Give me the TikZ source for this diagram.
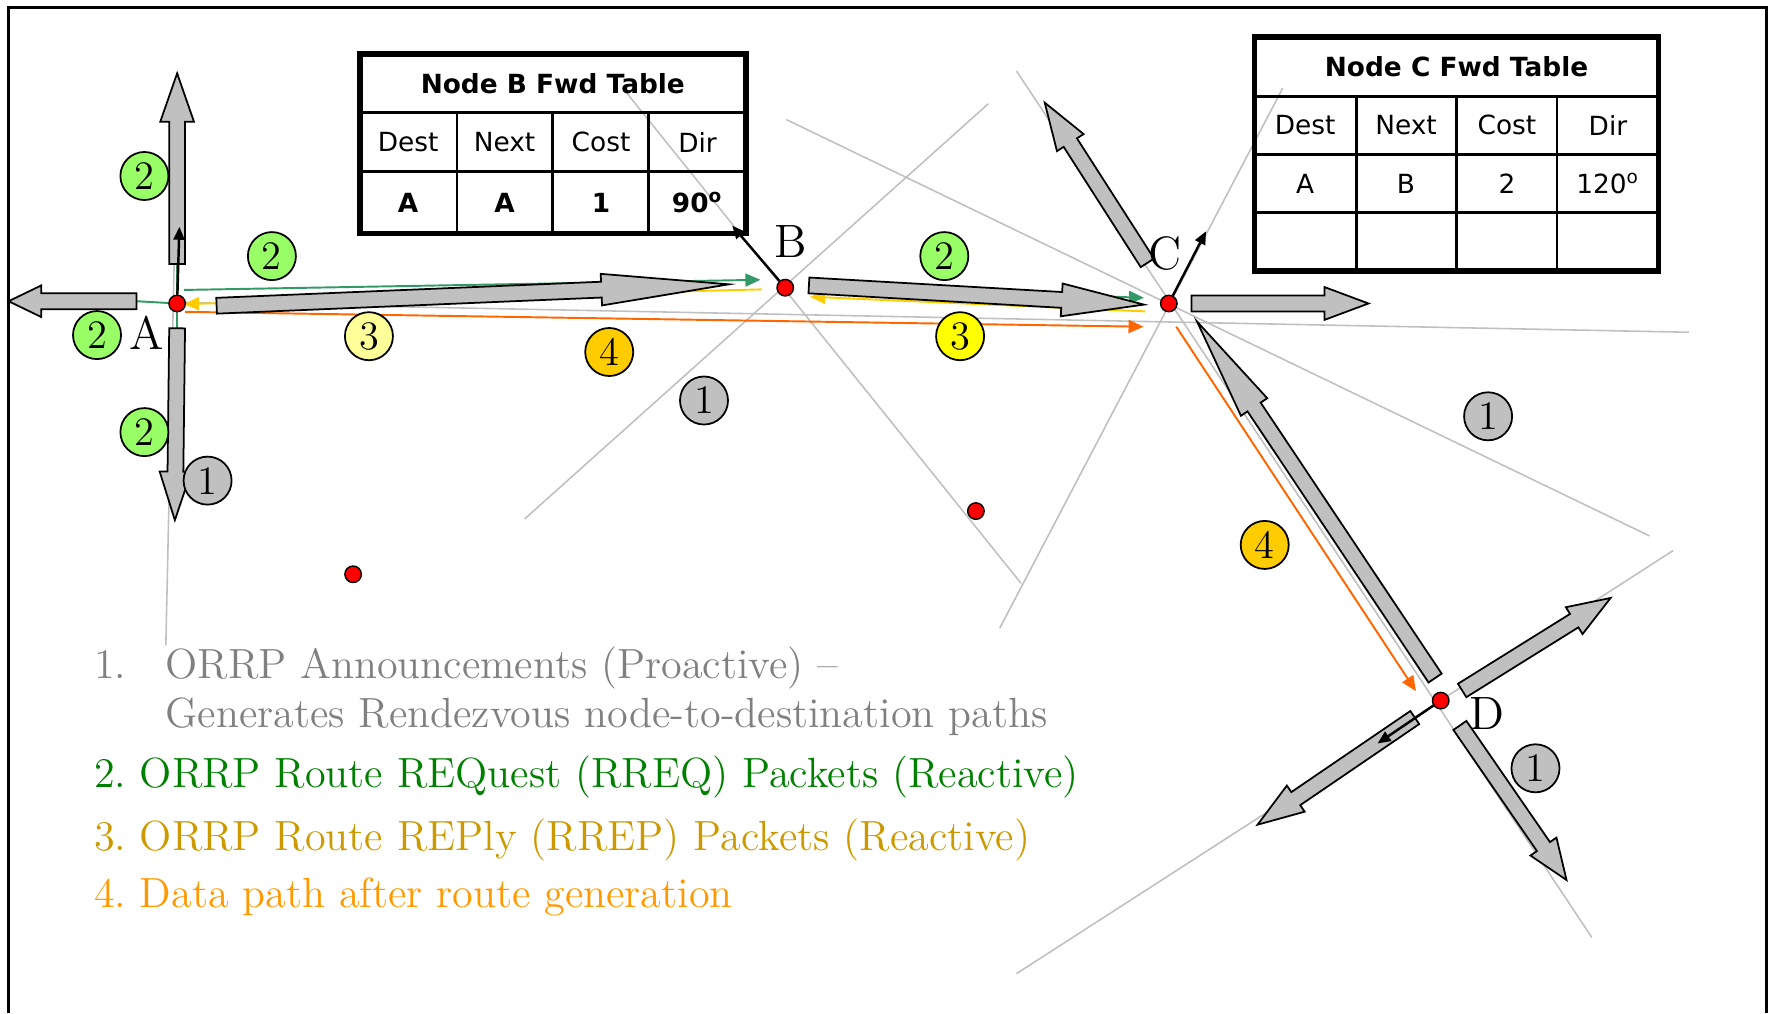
\documentclass[tikz,border=0pt]{standalone}
\usepackage{fontspec}
\newfontfamily\tabfont{DejaVu Sans}
\usetikzlibrary{calc,arrows.meta}
\pgfdeclarelayer{bg}
\pgfsetlayers{bg,main}
\frenchspacing

\definecolor{raygray}{RGB}{192,192,192}
\definecolor{blockgray}{RGB}{192,192,192}
\definecolor{reqgreen}{RGB}{51,153,102}
\definecolor{repgold}{RGB}{255,204,0}
\definecolor{datorange}{RGB}{255,102,0}
\definecolor{bdgreen}{RGB}{153,255,102}
\definecolor{bdpale}{RGB}{255,255,153}
\definecolor{bdyellow}{RGB}{255,255,0}
\definecolor{bdgold}{RGB}{255,204,0}
\definecolor{leggray}{RGB}{128,128,128}
\definecolor{leggreen}{RGB}{0,128,0}
\definecolor{leggold}{RGB}{204,153,0}
\definecolor{legorange}{RGB}{255,153,0}

\newcommand\arrshaft{0.79mm}
% block arrow: tail, tip, head length, head half width
\newcommand\blkarrow[4]{%
  \coordinate (hb) at ($(#2)!#3!(#1)$);
  \draw[blockarr] ($(#1)!\arrshaft!90:(#2)$) -- ($(hb)!\arrshaft!90:(#2)$) -- ($(hb)!#4!90:(#2)$) -- (#2)
    -- ($(hb)!#4!-90:(#2)$) -- ($(hb)!\arrshaft!-90:(#2)$) -- ($(#1)!\arrshaft!-90:(#2)$) -- cycle;}

\begin{document}
\begin{tikzpicture}[
	x=0.011282cm, y=-0.011282cm,
	ray/.style={draw=raygray, line width=0.45pt},
	rdot/.style={circle, draw, fill=red, minimum size=1.65mm, inner sep=0pt, line width=0.4pt},
	badge/.style={circle, draw, line width=0.5pt, minimum size=4.8mm, inner sep=0pt, font=\fontsize{11.5}{11.5}\selectfont},
	nodelbl/.style={anchor=base, inner sep=0pt, font=\fontsize{13.3}{14}\selectfont},
	blockarr/.style={draw, fill=blockgray, line width=0.5pt, line join=miter},
	reqln/.style={draw=reqgreen, line width=0.55pt},
	repln/.style={draw=repgold, line width=0.55pt},
	datln/.style={draw=datorange, line width=0.55pt},
	headed/.style={-{Triangle[length=1.5mm,width=1.3mm]}},
	ptr/.style={draw, line width=0.7pt, -{Triangle[length=1.3mm,width=1.1mm]}},
	cell/.style={inner sep=0pt, font=\tabfont\fontsize{7.5}{9}\selectfont},
	legtxt/.style={anchor=base west, inner sep=0pt, font=\fontsize{12}{14}\selectfont},
	]
	\useasboundingbox (0,0) rectangle (1568,898);
	\draw[line width=0.8pt] (7.6,898) -- (7.6,6.5) -- (1565.5,6.5) -- (1565.5,898);

	% nodes
	\node[rdot] (A) at (157,269) {};
	\node[rdot] (B) at (696,255) {};
	\node[rdot] (C) at (1036,269) {};
	\node[rdot] (D) at (1277,621) {};
	\node[rdot] (E) at (313,509) {};
	\node[rdot] (F) at (865,453) {};

	\node[nodelbl] (lA) at (130,310) {A};
	\node[nodelbl] (lB) at (701,228) {B};
	\node[nodelbl] (lC) at (1033,239) {C};
	\node[nodelbl] (lD) at (1318,647) {D};

	% rays
	\coordinate (r1a) at (158,65);   \coordinate (r1b) at (147,572);
	\coordinate (r2a) at (552,78);   \coordinate (r2b) at (905,517);
	\coordinate (r3a) at (876,92);   \coordinate (r3b) at (465,460);
	\coordinate (r4a) at (697,106);  \coordinate (r4b) at (1462,475);
	\coordinate (r5a) at (901,63);   \coordinate (r5b) at (1411,831);
	\coordinate (r6a) at (1137,78);  \coordinate (r6b) at (886,557);
	\coordinate (r7a) at (157,268);  \coordinate (r7b) at (1497,294.5);
	\coordinate (r8a) at (1483,488); \coordinate (r8b) at (901,863);

	% block arrow ends
	\coordinate (aUt) at (157,234);  \coordinate (aUh) at (157,65);
	\coordinate (aLt) at (121,267);  \coordinate (aLh) at (7.6,267);
	\coordinate (aDt) at (157,291);  \coordinate (aDh) at (155,461);
	\coordinate (abt) at (192,271);  \coordinate (abh) at (646,252);
	\coordinate (bct) at (717,253);  \coordinate (bch) at (1014,270);
	\coordinate (cRt) at (1056,269); \coordinate (cRh) at (1213,269);
	\coordinate (cUt) at (1017,233); \coordinate (cUh) at (926,91);
	\coordinate (dct) at (1272,601); \coordinate (dch) at (1061,285);
	\coordinate (dRt) at (1296,612); \coordinate (dRh) at (1427.6,530);
	\coordinate (dLt) at (1254,636); \coordinate (dLh) at (1114.6,731);
	\coordinate (dSt) at (1294,643); \coordinate (dSh) at (1388.5,780);

	% packet paths
	\coordinate (gab1) at (163,257);   \coordinate (gab2) at (674,248);
	\coordinate (gbc1) at (720,253);   \coordinate (gbc2) at (1014,264);
	\coordinate (yba1) at (675,256.5); \coordinate (yba2) at (163,269.5);
	\coordinate (ycb1) at (1015,276);  \coordinate (ycb2) at (718,263);
	\coordinate (oac1) at (164,276.4); \coordinate (oac2) at (1013.6,289.6);
	\coordinate (ocd1) at (1042.6,289.6); \coordinate (ocd2) at (1255,612.6);

	\begin{pgfonlayer}{bg}
		\foreach \r in {1,...,8}
			\draw[ray] (r\r a) -- (r\r b);
		\draw[reqln] (A) -- (aLt);
		\draw[reqln] (A) -- (aUt);
		\draw[reqln] (A) -- (aDt);
		\draw[reqln, headed] (gab1) -- (gab2);
		\draw[reqln, headed] (gbc1) -- (gbc2);
		\draw[repln, headed] (yba1) -- (yba2);
		\draw[repln, headed] (ycb1) -- (ycb2);
		\draw[datln, headed] (oac1) -- (oac2);
		\draw[datln, headed] (ocd1) -- (ocd2);

		\blkarrow{aUt}{aUh}{4.85mm}{1.69mm}
		\blkarrow{aLt}{aLh}{3.27mm}{1.58mm}
		\blkarrow{aDt}{aDh}{4.85mm}{1.58mm}
		\blkarrow{abt}{abh}{12.75mm}{1.58mm}
		\blkarrow{bct}{bch}{8.24mm}{1.64mm}
		\blkarrow{cRt}{cRh}{4.4mm}{1.64mm}
		\blkarrow{cUt}{cUh}{4.74mm}{1.58mm}
		\blkarrow{dct}{dch}{10.27mm}{1.58mm}
		\blkarrow{dRt}{dRh}{4.29mm}{1.58mm}
		\blkarrow{dLt}{dLh}{4.63mm}{1.58mm}
		\blkarrow{dSt}{dSh}{4.06mm}{1.58mm}
	\end{pgfonlayer}

	\coordinate (pA) at (159,201);
	\coordinate (pB) at (649,200);
	\coordinate (pC) at (1069,205);
	\coordinate (pD) at (1221,659);
	\draw[ptr] (A) -- (pA);
	\draw[ptr] (B) -- (pB);
	\draw[ptr] (C) -- (pC);
	\draw[ptr] (D) -- (pD);

	% badges
	\node[badge, fill=bdgreen] (g1) at (128,156) {2};
	\node[badge, fill=bdgreen] (g2) at (241,227) {2};
	\node[badge, fill=bdgreen] (g3) at (86,297) {2};
	\node[badge, fill=bdgreen] (g4) at (128,383) {2};
	\node[badge, fill=bdgreen] (g5) at (837,227) {2};
	\node[badge, fill=bdpale] (y1) at (327,298) {3};
	\node[badge, fill=bdyellow] (y2) at (851,298) {3};
	\node[badge, fill=bdgold] (o1) at (540,312) {4};
	\node[badge, fill=bdgold] (o2) at (1121,483) {4};
	\node[badge, fill=blockgray] (k1) at (184,426) {1};
	\node[badge, fill=blockgray] (k2) at (624,355) {1};
	\node[badge, fill=blockgray] (k3) at (1319,369) {1};
	\node[badge, fill=blockgray] (k4) at (1361,681) {1};

	% Node B table
	\draw[line width=1.6pt] (319,48) rectangle (661,207);
	\draw[line width=0.9pt] (319,100) -- (661,100);
	\draw[line width=0.8pt] (319,152) -- (661,152);
	\foreach \x in {405,490,575}
		\draw[line width=0.8pt] (\x,100) -- (\x,207);
	\node[cell, font=\tabfont\bfseries\fontsize{7.5}{9}\selectfont] (bT) at (490,74) {Node B Fwd Table};
	\foreach \h/\v [count=\i] in {Dest/A,Next/A,Cost/1,Dir/90\textsuperscript{o}} {
		\node[cell] (bH\i) at (319+85.5*\i-42.75,126) {\h};
		\node[cell, font=\tabfont\bfseries\fontsize{7.5}{9}\selectfont] (bV\i) at (319+85.5*\i-42.75,179.5) {\v};
	}

	% Node C table
	\draw[line width=1.6pt] (1112,33) rectangle (1470,240);
	\draw[line width=0.9pt] (1112,85.5) -- (1470,85.5);
	\draw[line width=0.8pt] (1112,137) -- (1470,137);
	\draw[line width=0.8pt] (1112,188.4) -- (1470,188.4);
	\foreach \x in {1202,1291,1380}
		\draw[line width=0.8pt] (\x,85.5) -- (\x,240);
	\node[cell, font=\tabfont\bfseries\fontsize{7.5}{9}\selectfont] (cT) at (1291,59) {Node C Fwd Table};
	\foreach \h/\v [count=\i] in {Dest/A,Next/B,Cost/2,Dir/120\textsuperscript{o}} {
		\node[cell] (cH\i) at (1112+89.5*\i-44.75,111) {\h};
		\node[cell] (cV\i) at (1112+89.5*\i-44.75,162.7) {\v};
	}

	% legend
	\node[legtxt, text=leggray] (l1n) at (82.7,601) {1.};
	\node[legtxt, text=leggray] (l1) at (146,601) {ORRP Announcements (Proactive) –};
	\node[legtxt, text=leggray] (l1b) at (146,644.5) {Generates Rendezvous node-to-destination paths};
	\node[legtxt, text=leggreen] (l2) at (82.7,698) {2. ORRP Route REQuest (RREQ) Packets (Reactive)};
	\node[legtxt, text=leggold] (l3) at (82.7,754) {3. ORRP Route REPly (RREP) Packets (Reactive)};
	\node[legtxt, text=legorange] (l4) at (82.7,804) {4. Data path after route generation};
\end{tikzpicture}
\end{document}
